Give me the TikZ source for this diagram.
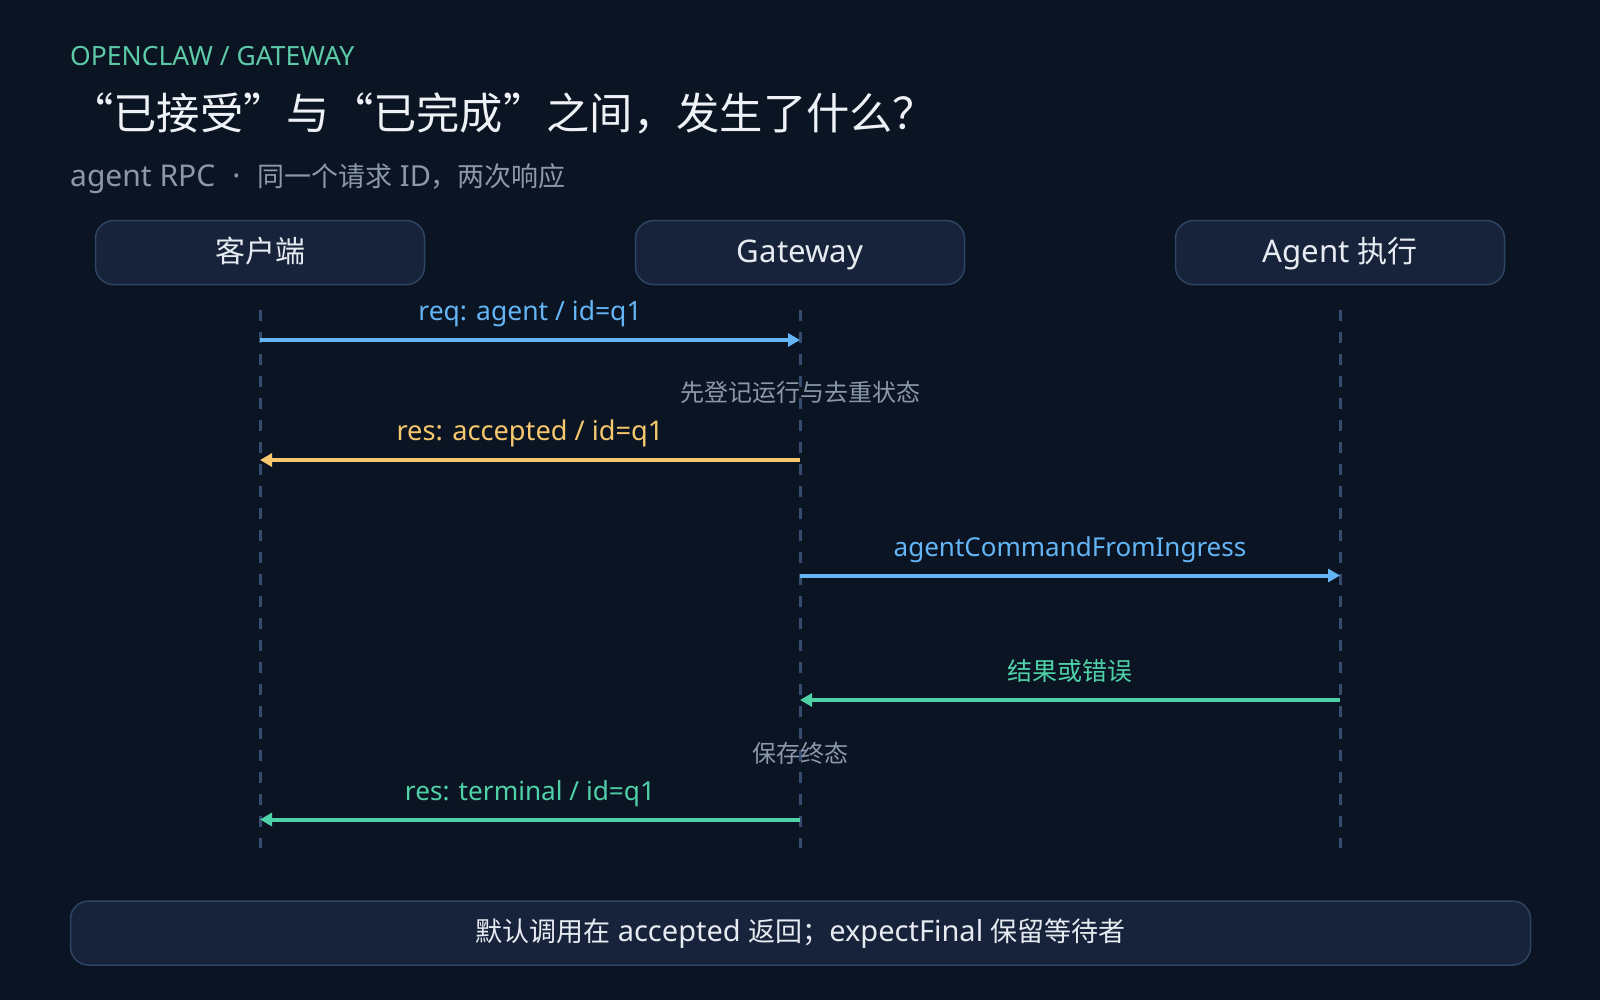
\documentclass[tikz,border=0pt]{standalone}
\usepackage{fontspec}
\setmainfont{Noto Sans CJK SC}
\newfontfamily\ltf{Noto Sans}
\newcommand\lat[2]{{\ltf\fontsize{#1}{#1}\selectfont #2}}
\usetikzlibrary{arrows.meta}
\definecolor{bg}{HTML}{0B1422}
\definecolor{boxfill}{HTML}{17233A}
\definecolor{boxline}{HTML}{2E4463}
\definecolor{lifecol}{HTML}{364C6E}
\definecolor{msgblue}{HTML}{64B5F6}
\definecolor{msgyellow}{HTML}{F6C86E}
\definecolor{msggreen}{HTML}{4FD1A8}
\definecolor{kickteal}{HTML}{5CC9A7}
\definecolor{notegray}{HTML}{8B98AB}
\definecolor{titlewhite}{HTML}{EEF2F7}
\definecolor{boxtext}{HTML}{E6EBF2}
\tikzset{
  actor/.style={draw=boxline, line width=1.5pt, fill=boxfill, rounded corners=18pt,
    minimum width=329pt, minimum height=64pt, inner sep=0pt, text=boxtext,
    font=\fontsize{30}{36}\selectfont, text height=24pt, text depth=3.2pt},
  footbox/.style={draw=boxline, line width=1.5pt, fill=boxfill, rounded corners=18pt,
    minimum width=1460pt, minimum height=64pt, inner sep=0pt, text=boxtext,
    font=\fontsize{27}{32}\selectfont, text height=22pt, text depth=6pt},
  lifeline/.style={draw=lifecol, line width=3pt, dash pattern=on 11pt off 11pt},
  msg/.style={line width=4pt, -{Triangle[length=12pt,width=13pt]}},
  msglabel/.style={anchor=base, inner sep=0pt, font=\fontsize{25}{30}\selectfont},
  note/.style={anchor=base, inner sep=0pt, text=notegray, font=\fontsize{24}{28}\selectfont},
  head/.style={anchor=base west, inner sep=0pt},
}
\begin{document}
\begin{tikzpicture}[x=1pt,y=-1pt]
\useasboundingbox (0,0) rectangle (1600,1000);
\fill[bg] (0,0) rectangle (1600,1000);

% header
\node[head, text=kickteal] (kicker) at (70,66) {\lat{26.5}{OPENCLAW / GATEWAY}};
\node[head, text=titlewhite, font=\fontsize{43.3}{50}\selectfont] (title) at (70,130) {“已接受”与“已完成”之间，发生了什么？};
\node[head, text=notegray, font=\fontsize{27}{32}\selectfont] (sub) at (70,187) {\lat{30}{agent RPC\hspace{17pt}·\hspace{17pt}}同一个请求\lat{29}{\ ID}，两次响应};

% actors
\node[actor] (client) at (260,252.6) {客户端};
\node[actor] (gateway) at (800,252.6) {\lat{31.2}{Gateway}};
\node[actor] (agent) at (1340,252.6) {\lat{31.2}{Agent }执行};

% lifelines
\coordinate (ltop) at (0,310);
\coordinate (lbot) at (0,848);
\draw[lifeline] (client |- ltop) -- (client |- lbot);
\draw[lifeline] (gateway |- ltop) -- (gateway |- lbot);
\draw[lifeline] (agent |- ltop) -- (agent |- lbot);

% rows
\coordinate (r1) at (0,340);
\coordinate (r2) at (0,460);
\coordinate (r3) at (0,575.5);
\coordinate (r4) at (0,700);
\coordinate (r5) at (0,819.5);

\draw[msg, msgblue] (client |- r1) -- (gateway |- r1);
\node[msglabel, text=msgblue] (l1) at (530,320.5) {\lat{26.5}{req: agent / id=q1}};

\node[note] (n1) at (800,401) {先登记运行与去重状态};

\draw[msg, msgyellow] (gateway |- r2) -- (client |- r2);
\node[msglabel, text=msgyellow] (l2) at (530,440.5) {\lat{27.2}{res: accepted / id=q1}};

\draw[msg, msgblue] (gateway |- r3) -- (agent |- r3);
\node[msglabel, text=msgblue] (l3) at (1070,556) {\lat{26}{agentCommandFromIngress}};

\draw[msg, msggreen] (agent |- r4) -- (gateway |- r4);
\node[msglabel, text=msggreen] (l4) at (1070,680.5) {结果或错误};

\node[note] (n2) at (800,762.5) {保存终态};

\draw[msg, msggreen] (gateway |- r5) -- (client |- r5);
\node[msglabel, text=msggreen] (l5) at (530,800) {\lat{26.2}{res: terminal / id=q1}};

% footer
\node[footbox] (foot) at (800.5,933) {默认调用在\lat{29}{\ accepted }返回；\lat{29}{expectFinal }保留等待者};
\end{tikzpicture}
\end{document}
